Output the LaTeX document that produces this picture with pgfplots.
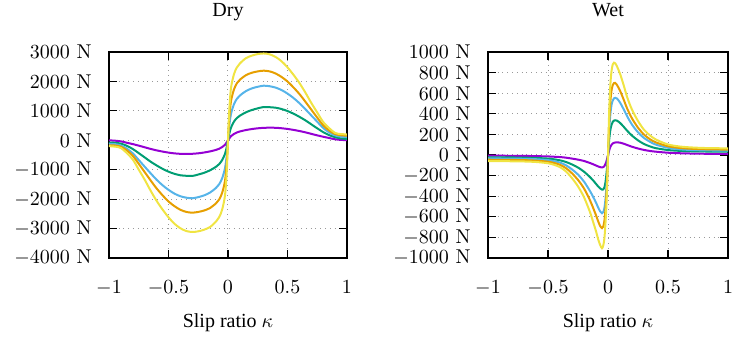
\documentclass[border=0pt]{standalone}
\usepackage{pgfplots}
\usepackage{pgfplotstable}
\pgfplotsset{compat=1.18}
\usepackage{fontspec}
\newfontfamily\tnr{Liberation Serif}
\definecolor{cP}{HTML}{9400D3}
\definecolor{cG}{HTML}{009E73}
\definecolor{cB}{HTML}{56B4E9}
\definecolor{cO}{HTML}{E69F00}
\definecolor{cY}{HTML}{F0E442}

\pgfplotstableread{
k      p     g      b      o      y
-1     -2    -80    -125   -170   -200
-0.95  -14   -85    -130   -177   -215
-0.9   -37   -115   -177   -221   -262
-0.85  -84   -188   -286   -344   -436
-0.8   -130  -297   -443   -529   -654
-0.75  -182  -437   -670   -800   -997
-0.7   -238  -582   -897   -1082  -1340
-0.65  -294  -728   -1123  -1365  -1714
-0.6   -343  -855   -1340  -1636  -2057
-0.55  -384  -970   -1528  -1870  -2353
-0.5   -419  -1067  -1685  -2079  -2617
-0.45  -445  -1140  -1813  -2239  -2836
-0.4   -461  -1189  -1902  -2362  -2991
-0.35  -466  -1207  -1951  -2435  -3085
-0.3   -459  -1213  -1971  -2460  -3116
-0.25  -443  -1164  -1932  -2435  -3094
-0.2   -415  -1104  -1872  -2386  -3038
-0.15  -377  -1019  -1774  -2300  -2945
-0.1   -326  -898   -1616  -2140  -2758
-0.075 -289  -813   -1498  -2017  -2617
-0.05  -233  -679   -1301  -1796  -2368
-0.025 -154  -461   -946   -1378  -1870
-0.01  -65   -218   -493   -738   -1028
0      0     0      0      0      0
0.01   60    203    464    710    974
0.025  141   429    890    1324   1770
0.05   214   633    1224   1726   2242
0.075  265   757    1410   1939   2478
0.1    300   836    1521   2058   2611
0.15   347   949    1670   2211   2788
0.2    381   1028   1762   2294   2876
0.25   407   1085   1818   2341   2929
0.3    422   1130   1855   2365   2950
0.35   428   1124   1836   2341   2921
0.4    424   1107   1790   2270   2832
0.45   409   1062   1707   2152   2685
0.5    385   994    1586   1998   2478
0.55   353   904    1438   1797   2227
0.6    315   797    1261   1573   1947
0.65   270   678    1057   1313   1623
0.7    218   542    844    1041   1269
0.75   167   407    631    769    944
0.8    120   277    417    508    620
0.85   77    175    269    331    413
0.9    34    107    167    213    250
0.95   13    62     122    170    210
1      2     45     110    156    200
}\drytab

\pgfplotstableread{
k       p     g     b     o     y
-1      -7    -23   -33   -46   -59
-0.9    -7    -23   -34   -47   -60
-0.8    -8    -24   -35   -48   -61
-0.7    -9    -26   -37   -50   -63
-0.6    -11   -29   -41   -55   -68
-0.5    -14   -35   -50   -65   -80
-0.45   -17   -42   -60   -77   -95
-0.4    -20   -52   -74   -95   -118
-0.35   -26   -68   -100  -128  -160
-0.3    -35   -92   -140  -178  -225
-0.25   -45   -122  -190  -242  -305
-0.2    -58   -162  -258  -325  -410
-0.15   -78   -215  -350  -440  -555
-0.12   -92   -252  -415  -525  -665
-0.1    -102  -280  -462  -585  -740
-0.08   -112  -308  -515  -650  -825
-0.065  -118  -325  -548  -690  -875
-0.05   -121  -336  -565  -710  -905
-0.04   -118  -335  -555  -695  -880
-0.03   -108  -315  -515  -640  -810
-0.02   -85   -255  -415  -510  -640
-0.01   -50   -150  -250  -310  -400
0       -2    -5    -10   -10   -20
0.01    45    150   240   320   430
0.02    80    245   400   525   690
0.03    100   295   490   630   820
0.04    112   322   530   680   880
0.05    118   334   550   698   896
0.06    121   337   555   700   890
0.075   123   333   548   680   860
0.1     120   312   510   625   790
0.13    110   275   445   540   680
0.16    97    235   375   450   560
0.2     80    188   295   355   440
0.25    63    142   220   265   330
0.3     49    107   165   198   245
0.35    39    83    128   153   190
0.4     32    66    100   122   150
0.5     22    48    70    85    102
0.6     17    40    55    68    82
0.7     14    36    48    60    73
0.8     12    34    45    56    68
0.9     11    33    43    54    66
1       10    32    42    52    64
}\wettab

\pgfplotsset{
  tyre/.style={
    anchor=south west,
    scale only axis,
    height=103pt,
    xmin=-1, xmax=1,
    xtick={-1,-0.5,0,0.5,1},
    grid=major,
    major grid style={dotted, gray!80, line width=0.5pt},
    axis line style={line width=0.8pt},
    tick style={line width=0.6pt, black},
    major tick length=4pt,
    scaled y ticks=false,
    /pgf/number format/1000 sep={},
    yticklabel={$\pgfmathprintnumber{\tick}$~N},
    xticklabel style={yshift=-8pt},
    yticklabel style={inner sep=1pt, xshift=-7.5pt},
    every axis title/.style={at={(0.5,1)}, anchor=base, yshift=17.5pt},
    every axis x label/.style={at={(0.5,0)}, anchor=base, yshift=-35pt},
    xlabel={\tnr Slip ratio $\kappa$},
    every axis plot/.append style={no marks, smooth, line width=1pt},
  }
}

\begin{document}
\begin{tikzpicture}
\path[use as bounding box] (0,0) rectangle (377.5pt,170pt);
\begin{axis}[tyre, at={(54.5pt,41pt)}, width=119pt,
  ymin=-4000, ymax=3000, ytick={-4000,-3000,...,3000},
  title={\tnr Dry}]
  \addplot[cP] table[x=k,y=p]{\drytab};
  \addplot[cG] table[x=k,y=g]{\drytab};
  \addplot[cB] table[x=k,y=b]{\drytab};
  \addplot[cO] table[x=k,y=o]{\drytab};
  \addplot[cY] table[x=k,y=y]{\drytab};
\end{axis}
\begin{axis}[tyre, at={(244pt,41pt)}, width=120pt,
  ymin=-1000, ymax=1000, ytick={-1000,-800,...,1000},
  title={\tnr Wet}]
  \addplot[cP] table[x=k,y=p]{\wettab};
  \addplot[cG] table[x=k,y=g]{\wettab};
  \addplot[cB] table[x=k,y=b]{\wettab};
  \addplot[cO] table[x=k,y=o]{\wettab};
  \addplot[cY] table[x=k,y=y]{\wettab};
\end{axis}
\end{tikzpicture}
\end{document}
